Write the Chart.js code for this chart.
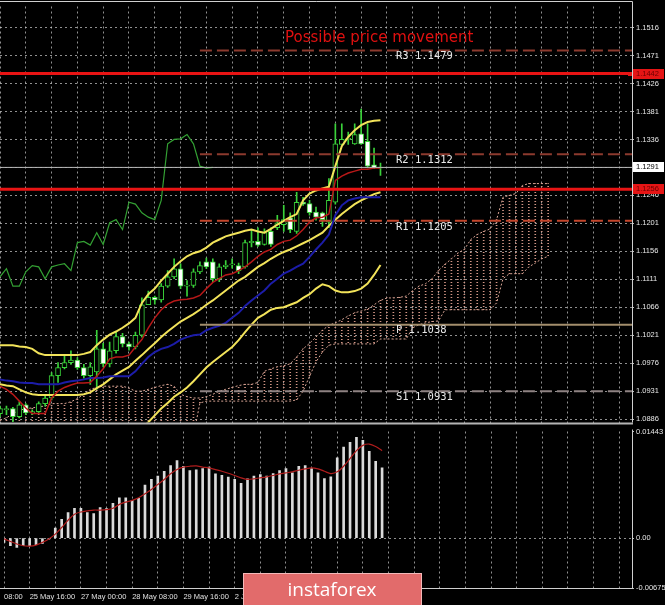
<!DOCTYPE html>
<html>
<head>
<meta charset="utf-8">
<script src="https://cdn.jsdelivr.net/npm/chart.js@4.4.0/dist/chart.umd.min.js"></script>
<style>
  body { margin: 0; background: #000; width: 665px; height: 605px; overflow: hidden; position: relative; }
  canvas { position: absolute; left: 0; }
  #main { top: 0; }
  #sub { top: 425px; }
</style>
</head>
<body>
<canvas id="main" width="665" height="429"></canvas>
<canvas id="sub" width="665" height="180"></canvas>
<script>
// EURUSD H4 — candles + ichimoku + bollinger, MACD below
const slots = [...Array(99).keys()]; // 60 bars + empty space on the right

const open  = [1.0895,1.0901,1.0903,1.0890,1.0909,1.0896,1.0898,1.0911,1.0920,1.0956,1.0969,1.0977,1.0981,1.0969,1.0956,1.0962,1.0999,1.0975,1.0996,1.1019,1.1007,1.1002,1.1021,1.1070,1.1082,1.1078,1.1100,1.1115,1.1128,1.1100,1.1101,1.1123,1.1139,1.1139,1.1112,1.1131,1.1134,1.1133,1.1131,1.1170,1.1172,1.1167,1.1188,1.1194,1.1199,1.1210,1.1188,1.1235,1.1233,1.1219,1.1218,1.1203,1.1235,1.1328,1.1336,1.1329,1.1345,1.1333,1.1295,1.1290];
const high  = [1.0907,1.0907,1.0905,1.0914,1.0911,1.0901,1.0914,1.0923,1.0961,1.0977,1.0989,1.0996,1.0985,1.0974,1.0977,1.1029,1.1008,1.1010,1.1027,1.1024,1.1010,1.1026,1.1081,1.1092,1.1084,1.1104,1.1125,1.1144,1.1136,1.1109,1.1128,1.1139,1.1145,1.1144,1.1136,1.1141,1.1144,1.1137,1.1174,1.1191,1.1194,1.1192,1.1194,1.1214,1.1230,1.1218,1.1251,1.1243,1.1238,1.1227,1.1219,1.1273,1.1361,1.1361,1.1348,1.1361,1.1385,1.1361,1.1322,1.1298];
const low   = [1.0890,1.0893,1.0882,1.0888,1.0893,1.0893,1.0895,1.0907,1.0917,1.0945,1.0967,1.0974,1.0966,1.0952,1.0942,1.0934,1.0970,1.0970,1.0992,1.1002,1.0997,1.0999,1.1018,1.1070,1.1071,1.1074,1.1098,1.1112,1.1096,1.1084,1.1098,1.1120,1.1128,1.1107,1.1107,1.1128,1.1129,1.1120,1.1129,1.1163,1.1164,1.1166,1.1164,1.1191,1.1188,1.1186,1.1185,1.1230,1.1214,1.1206,1.1196,1.1194,1.1232,1.1328,1.1328,1.1328,1.1328,1.1290,1.1289,1.1278];
const close = [1.0903,1.0903,1.0890,1.0909,1.0896,1.0898,1.0911,1.0920,1.0956,1.0969,1.0977,1.0981,1.0969,1.0956,1.0970,1.0999,1.0975,1.0996,1.1019,1.1007,1.1002,1.1021,1.1070,1.1082,1.1078,1.1100,1.1115,1.1128,1.1100,1.1100,1.1123,1.1133,1.1131,1.1112,1.1131,1.1134,1.1136,1.1125,1.1170,1.1172,1.1166,1.1186,1.1167,1.1202,1.1207,1.1191,1.1235,1.1232,1.1218,1.1211,1.1207,1.1238,1.1329,1.1336,1.1337,1.1344,1.1329,1.1293,1.1290,1.1291];

const tenkan = [1.0939,1.0934,1.0926,1.0915,1.0904,1.0895,1.0895,1.0895,1.0920,1.0931,1.0937,1.0941,1.0944,1.0944,1.0945,1.0955,1.0967,1.0983,1.0986,1.0986,1.0989,1.1002,1.1014,1.1033,1.1049,1.1062,1.1071,1.1076,1.1078,1.1079,1.1081,1.1085,1.1096,1.1106,1.1112,1.1118,1.1120,1.1125,1.1131,1.1139,1.1148,1.1155,1.1159,1.1167,1.1172,1.1174,1.1181,1.1191,1.1203,1.1210,1.1211,1.1216,1.1270,1.1277,1.1282,1.1285,1.1288,1.1288,1.1290,1.1290];
const kijun  = [1.0950,1.0948,1.0947,1.0945,1.0944,1.0944,1.0942,1.0942,1.0942,1.0942,1.0945,1.0947,1.0948,1.0950,1.0952,1.0952,1.0953,1.0955,1.0955,1.0955,1.0955,1.0963,1.0975,1.0986,1.0994,1.0999,1.1002,1.1007,1.1014,1.1018,1.1021,1.1022,1.1029,1.1033,1.1036,1.1041,1.1049,1.1057,1.1068,1.1077,1.1085,1.1093,1.1104,1.1112,1.1120,1.1125,1.1131,1.1136,1.1147,1.1159,1.1170,1.1183,1.1214,1.1230,1.1238,1.1241,1.1243,1.1243,1.1243,1.1243];
const spanA  = [1.0884,1.0888,1.0895,1.0900,1.0903,1.0904,1.0906,1.0907,1.0911,1.0911,1.0911,1.0914,1.0919,1.0926,1.0934,1.0937,1.0939,1.0939,1.0939,1.0939,1.0936,1.0931,1.0931,1.0934,1.0937,1.0940,1.0942,1.0939,1.0926,1.0922,1.0920,1.0920,1.0922,1.0926,1.0931,1.0934,1.0937,1.0940,1.0942,1.0942,1.0945,1.0963,1.0967,1.0970,1.0972,1.0975,1.0986,1.0999,1.1008,1.1018,1.1029,1.1037,1.1041,1.1046,1.1052,1.1057,1.1060,1.1063,1.1070,1.1077,1.1081,1.1081,1.1082,1.1084,1.1093,1.1100,1.1104,1.1112,1.1125,1.1135,1.1144,1.1153,1.1159,1.1175,1.1183,1.1188,1.1192,1.1207,1.1243,1.1246,1.1249,1.1262,1.1265,1.1265,1.1265,1.1265];
const spanB  = [1.0860,1.0860,1.0860,1.0860,1.0860,1.0860,1.0860,1.0860,1.0860,1.0860,1.0860,1.0860,1.0860,1.0860,1.0860,1.0860,1.0860,1.0860,1.0860,1.0860,1.0860,1.0860,1.0860,1.0860,1.0860,1.0860,1.0860,1.0860,1.0860,1.0860,1.0860,1.0912,1.0915,1.0915,1.0915,1.0915,1.0915,1.0915,1.0915,1.0915,1.0915,1.0915,1.0915,1.0915,1.0915,1.0915,1.0917,1.0931,1.0955,1.0978,1.0994,1.1005,1.1007,1.1007,1.1007,1.1007,1.1007,1.1007,1.1007,1.1015,1.1015,1.1015,1.1015,1.1015,1.1033,1.1038,1.1041,1.1043,1.1044,1.1062,1.1062,1.1062,1.1062,1.1062,1.1062,1.1062,1.1062,1.1073,1.1112,1.1120,1.1120,1.1120,1.1131,1.1137,1.1144,1.1148];

const bbUpper  = [1.1005,1.1005,1.1005,1.1003,1.1002,1.0999,1.0992,1.0989,1.0989,1.0989,1.0989,1.0989,1.0989,1.0991,1.0994,1.1005,1.1014,1.1022,1.1027,1.1033,1.1040,1.1049,1.1073,1.1087,1.1096,1.1109,1.1120,1.1131,1.1140,1.1148,1.1153,1.1156,1.1162,1.1170,1.1175,1.1180,1.1183,1.1186,1.1189,1.1191,1.1188,1.1186,1.1192,1.1199,1.1205,1.1211,1.1216,1.1238,1.1249,1.1254,1.1257,1.1260,1.1293,1.1325,1.1340,1.1351,1.1359,1.1364,1.1366,1.1367];
const bbMiddle = [1.0942,1.0940,1.0939,1.0934,1.0929,1.0926,1.0925,1.0925,1.0925,1.0925,1.0925,1.0925,1.0925,1.0926,1.0929,1.0936,1.0942,1.0950,1.0958,1.0964,1.0970,1.0980,1.0989,1.0999,1.1008,1.1018,1.1027,1.1035,1.1043,1.1049,1.1055,1.1062,1.1070,1.1077,1.1085,1.1093,1.1101,1.1109,1.1115,1.1123,1.1131,1.1137,1.1144,1.1150,1.1155,1.1159,1.1164,1.1169,1.1174,1.1180,1.1186,1.1197,1.1207,1.1216,1.1224,1.1232,1.1238,1.1243,1.1248,1.1251];
const bbLower  = [1.0875,1.0876,1.0873,1.0866,1.0857,1.0853,1.0858,1.0861,1.0861,1.0861,1.0861,1.0861,1.0861,1.0861,1.0864,1.0867,1.0870,1.0872,1.0870,1.0868,1.0866,1.0868,1.0872,1.0881,1.0892,1.0903,1.0912,1.0922,1.0929,1.0937,1.0947,1.0958,1.0969,1.0978,1.0986,1.0994,1.1002,1.1013,1.1026,1.1038,1.1049,1.1055,1.1062,1.1065,1.1066,1.1070,1.1074,1.1081,1.1087,1.1096,1.1103,1.1100,1.1093,1.1090,1.1090,1.1092,1.1096,1.1104,1.1118,1.1134];

const macd   = [-0.00058,-0.00103,-0.00125,-0.00103,-0.00103,-0.0009,-0.00072,-0.00013,0.00135,0.00256,0.00345,0.00404,0.00404,0.00345,0.00332,0.00413,0.0040,0.00471,0.00547,0.00547,0.00511,0.00538,0.00717,0.00794,0.00838,0.00905,0.00982,0.01049,0.00972,0.00915,0.00924,0.0094,0.0096,0.0087,0.0085,0.00825,0.00794,0.0074,0.00803,0.00838,0.0086,0.00838,0.00874,0.00915,0.0094,0.00884,0.00973,0.00982,0.0094,0.00884,0.00807,0.0083,0.01085,0.01233,0.01296,0.01363,0.01322,0.01174,0.0104,0.0095];
const signal = [-0.0001,-0.00045,-0.0008,-0.00103,-0.00108,-0.00094,-0.00058,-0.00013,0.00054,0.00144,0.00242,0.00323,0.00354,0.00368,0.0038,0.0038,0.00386,0.00404,0.00457,0.00488,0.00511,0.00547,0.006,0.00659,0.00726,0.00794,0.0087,0.00928,0.0096,0.00973,0.00978,0.00962,0.0095,0.00928,0.00905,0.00878,0.00847,0.00816,0.00794,0.00803,0.00816,0.0083,0.00847,0.0087,0.00884,0.00897,0.00919,0.00937,0.0095,0.00937,0.00905,0.00874,0.00897,0.00973,0.01076,0.01184,0.01255,0.01273,0.01241,0.01184];

const priceTicks = [1.1516,1.1471,1.1426,1.1381,1.1336,1.1291,1.1246,1.1201,1.1156,1.1111,1.1066,1.1021,1.0976,1.0931,1.0886];
const macdTicks = [0.01443, 0, -0.00675];
const timeTickBars = [0, 4, 12, 20, 28, 36, 44];
const timeTickText = ['08:00', '25 May 16:00', '27 May 00:00', '28 May 08:00', '29 May 16:00', '2 Jun 00:00', '3 Jun 08:00'];

const pivotNames  = ['R3', 'R2', 'R1', 'P', 'S1'];
const pivotLevels = [1.1479, 1.1312, 1.1205, 1.1038, 1.0931];
const pivotColors = ['#8c3a2e', '#8c3a2e', '#c4462c', '#a38e6c', '#8e8282'];
const redLevels = [1.1442, 1.1256];
const bid = 1.1291;

const GREEN = '#3ad23a';
const gridColor = 'rgba(200,200,200,0.72)';
const axisFont = { family: 'Liberation Sans', size: 7.5 };

function hatch(color) {
  const c = document.createElement('canvas');
  c.width = 1; c.height = 3;
  const g = c.getContext('2d');
  g.fillStyle = color;
  g.fillRect(0, 0, 1, 1);
  return g.createPattern(c, 'repeat');
}

const hline = (val, from, color, width, dash, order) => ({
  type: 'line', data: [{x: from, y: val}, {x: 98, y: val}],
  borderColor: color, borderWidth: width, borderDash: dash, pointRadius: 0, order
});
const iline = (data, color, width, order, dash) => ({
  type: 'line', data, borderColor: color, borderWidth: width, borderDash: dash || [],
  pointRadius: 0, order
});

const xGrid = { offset: false, drawTicks: false, color: c => c.index % 4 === 0 ? gridColor : 'transparent' };

const mainDecor = {
  id: 'mainDecor',
  afterDraw(chart) {
    const {ctx, chartArea: a, scales: {x, y}} = chart;
    ctx.save();
    ctx.strokeStyle = '#cfcfcf'; ctx.lineWidth = 1;
    ctx.beginPath();
    ctx.moveTo(0, 1.5); ctx.lineTo(a.right + 0.5, 1.5); ctx.lineTo(a.right + 0.5, a.bottom);
    ctx.stroke();
    ctx.strokeStyle = '#b4b4b4'; ctx.lineWidth = 2;
    ctx.beginPath(); ctx.moveTo(0, a.bottom + 1); ctx.lineTo(a.right + 1, a.bottom + 1); ctx.stroke();

    ctx.textBaseline = 'middle'; ctx.textAlign = 'left';
    ctx.font = '10.5px "DejaVu Sans Mono"'; ctx.fillStyle = '#e8e8e8';
    const lx = x.getPixelForValue(61.4);
    pivotNames.forEach((n, i) => ctx.fillText(n + ' ' + pivotLevels[i].toFixed(4), lx, y.getPixelForValue(pivotLevels[i]) + 6));

    ctx.font = '15px "DejaVu Sans"'; ctx.fillStyle = '#e01010'; ctx.textAlign = 'center';
    ctx.fillText('Possible price movement', x.getPixelForValue(58.8), y.getPixelForValue(1.1499));

    ctx.font = '7.5px "Liberation Sans"'; ctx.textAlign = 'left';
    [[redLevels[0], '#e51515', '#6a0000'], [redLevels[1], '#e51515', '#6a0000'], [bid, '#ffffff', '#000000']].forEach(([v, bg, fg]) => {
      const py = Math.round(y.getPixelForValue(v));
      ctx.fillStyle = bg; ctx.fillRect(a.right + 1, py - 5, 31, 10);
      ctx.fillStyle = fg; ctx.fillText(v.toFixed(4), a.right + 4, py);
    });
    // selection marker at the end of the upper red level
    const my = Math.round(y.getPixelForValue(redLevels[0]));
    ctx.fillStyle = '#e51515'; ctx.fillRect(a.right - 4, my - 2, 4, 4);
    ctx.restore();
  }
};

const subDecor = {
  id: 'subDecor',
  afterDraw(chart) {
    const {ctx, chartArea: a} = chart;
    ctx.save();
    ctx.strokeStyle = '#cfcfcf'; ctx.lineWidth = 1;
    ctx.beginPath();
    ctx.moveTo(a.right + 0.5, a.top - 2); ctx.lineTo(a.right + 0.5, a.bottom + 0.5); ctx.lineTo(0, a.bottom + 0.5);
    ctx.stroke();
    const top = a.bottom - 15;
    ctx.fillStyle = '#e26b6b'; ctx.fillRect(243, top, 179, 40);
    ctx.strokeStyle = '#f3b8b8'; ctx.strokeRect(243.5, top + 0.5, 178, 40);
    ctx.fillStyle = '#ffffff'; ctx.font = '19px "Open Sans"'; ctx.textAlign = 'center'; ctx.textBaseline = 'alphabetic';
    ctx.fillText('instaforex', 332, top + 23);
    ctx.restore();
  }
};

new Chart(document.getElementById('main'), {
  type: 'bar',
  data: {
    labels: slots,
    datasets: [
      hline(redLevels[0], 0, '#e81414', 3, [], 1),
      hline(redLevels[1], 0, '#e81414', 3, [], 1),
      hline(bid, 0, '#b8b8b8', 1, [], 1),
      ...pivotLevels.map((v, i) => hline(v, 31, pivotColors[i], 2, i === 3 ? [] : [12, 5], 1)),
      iline(tenkan, '#b81818', 1.5, 2),
      iline(kijun, '#1c1ca8', 2, 2),
      iline(close.slice(26), '#33a033', 1.2, 2),
      iline(bbUpper, '#f2e35a', 2, 2),
      iline(bbMiddle, '#f2e35a', 2, 2),
      iline(bbLower, '#f2e35a', 2, 2),
      {
        data: open.map((o, i) => [o, close[i]]),
        backgroundColor: c => close[c.dataIndex] >= open[c.dataIndex] ? '#000000' : '#ffffff',
        borderColor: GREEN, borderWidth: 1, borderSkipped: false,
        barThickness: 5, minBarLength: 1, order: 3
      },
      {
        data: high.map((h, i) => [low[i], h]),
        backgroundColor: GREEN, barThickness: 1, order: 4
      },
      iline(spanA, '#d8a494', 1, 5, [2, 2]),
      iline(spanB, '#d8a494', 1, 5, [2, 2]),
      {
        data: spanA.map((a, i) => [a, spanB[i]]),
        backgroundColor: hatch('#d09484'), barThickness: 1, order: 6
      }
    ]
  },
  options: {
    responsive: false, animation: false, devicePixelRatio: 1,
    layout: { padding: { top: 2, bottom: 2, left: 0, right: 0 } },
    plugins: { legend: { display: false }, tooltip: { enabled: false } },
    datasets: { bar: { grouped: false, clip: 0 }, line: { clip: 0 } },
    scales: {
      x: {
        type: 'category', offset: false, grid: xGrid,
        border: { display: false, dash: [2, 3] },
        ticks: { display: false },
        afterFit: s => { s.height = 0; }
      },
      y: {
        position: 'right', min: 1.08806, max: 1.15499, beginAtZero: false,
        afterBuildTicks: s => { s.ticks = priceTicks.map(v => ({ value: v })); },
        afterFit: s => { s.width = 33; },
        grid: { color: gridColor, tickLength: 2, tickColor: '#bdbdbd' },
        border: { display: false, dash: [2, 3] },
        ticks: { color: '#e6e6e6', font: axisFont, padding: 2, callback: v => v.toFixed(4) }
      }
    }
  },
  plugins: [mainDecor]
});

new Chart(document.getElementById('sub'), {
  type: 'bar',
  data: {
    labels: slots,
    datasets: [
      { type: 'line', data: signal, borderColor: '#b01c1c', borderWidth: 1.2, pointRadius: 0, tension: 0.3, order: 1 },
      { data: macd, backgroundColor: '#dadada', barThickness: 2, order: 2 }
    ]
  },
  options: {
    responsive: false, animation: false, devicePixelRatio: 1,
    layout: { padding: { top: 5.5, bottom: 0, left: 0, right: 0 } },
    plugins: { legend: { display: false }, tooltip: { enabled: false } },
    datasets: { bar: { grouped: false, clip: 0 }, line: { clip: 0 } },
    scales: {
      x: {
        type: 'category', offset: false, grid: xGrid,
        border: { display: false, dash: [2, 3] },
        ticks: {
          autoSkip: false, maxRotation: 0, minRotation: 0, align: 'start', padding: 4,
          color: '#e0e0e0', font: axisFont,
          callback: (v, i) => { const k = timeTickBars.indexOf(i); return k < 0 ? '' : timeTickText[k]; }
        },
        afterFit: s => { s.height = 17; }
      },
      y: {
        position: 'right', min: -0.00675, max: 0.01443, beginAtZero: false,
        afterBuildTicks: s => { s.ticks = macdTicks.map(v => ({ value: v })); },
        afterFit: s => { s.width = 33; },
        grid: { color: c => c.tick && c.tick.value === 0 ? gridColor : 'transparent', tickLength: 2, tickColor: '#bdbdbd' },
        border: { display: false, dash: [2, 3] },
        ticks: { color: '#e6e6e6', font: axisFont, padding: 2, callback: v => v === 0 ? '0.00' : String(v) }
      }
    }
  },
  plugins: [subDecor]
});
</script>
</body>
</html>
